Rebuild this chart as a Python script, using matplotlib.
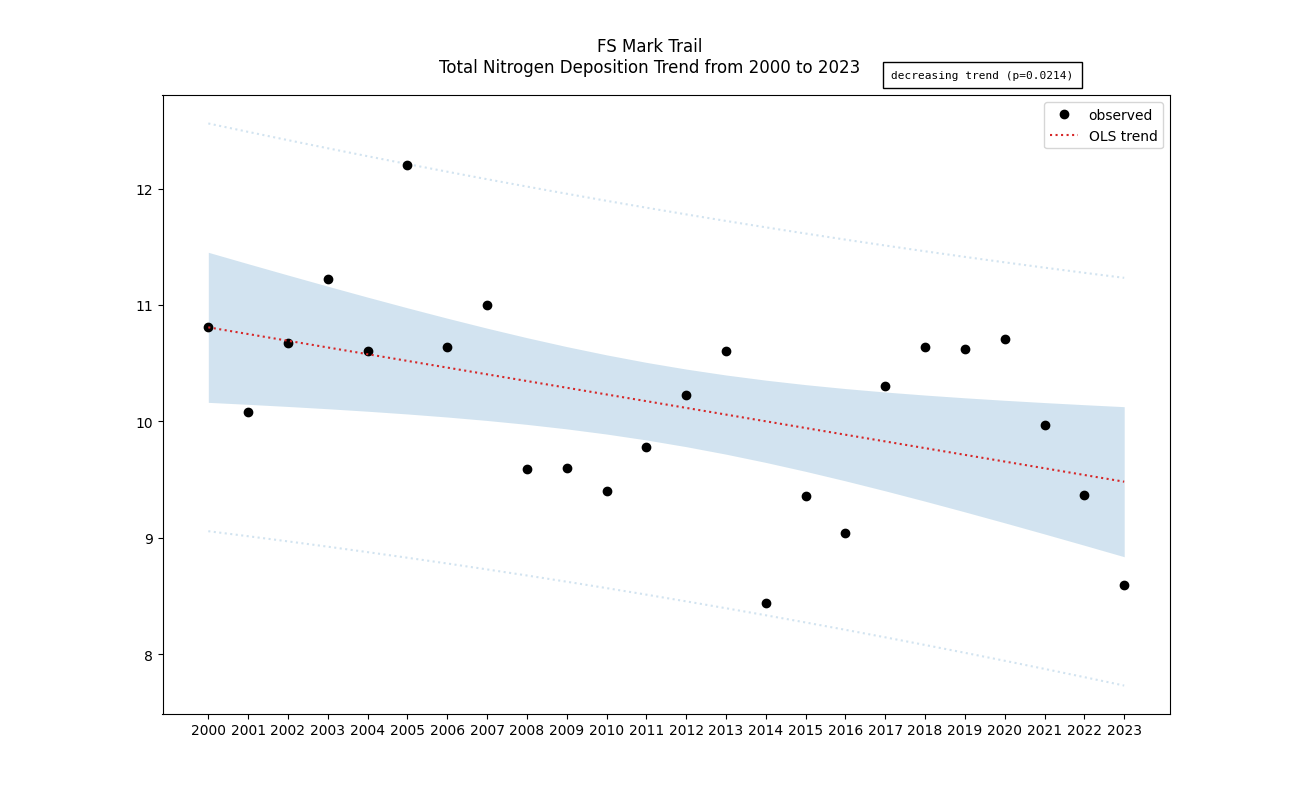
import numpy as np
import matplotlib
matplotlib.use("Agg")
import matplotlib.pyplot as plt

years = list(range(2000, 2024))
values = [10.81, 10.08, 10.67, 11.22, 10.60, 12.20, 10.64, 11.00, 9.59, 9.60,
          9.40, 9.78, 10.23, 10.60, 8.44, 9.36, 9.04, 10.30, 10.64, 10.62,
          10.71, 9.97, 9.37, 8.59]
site = "FS Mark Trail"
trend_label = "decreasing trend (p=0.0214)"
T_CRIT = 2.0739  # t(0.975, df=22)

x = np.array(years, dtype=float)
y = np.array(values)
n = len(x)
slope, intercept = np.polyfit(x, y, 1)
fit = intercept + slope * x
resid = y - fit
s = np.sqrt(np.sum(resid**2) / (n - 2))
xm = x.mean()
sxx = np.sum((x - xm)**2)
se_mean = s * np.sqrt(1.0 / n + (x - xm)**2 / sxx)
se_pred = s * np.sqrt(1 + 1.0 / n + (x - xm)**2 / sxx)

fig, ax = plt.subplots(figsize=(13, 8.03), dpi=100)
ax.fill_between(x, fit - T_CRIT * se_mean, fit + T_CRIT * se_mean, alpha=0.2, color='C0', linewidth=0)
ax.plot(x, fit - T_CRIT * se_pred, ':', color='C0', alpha=0.2)
ax.plot(x, fit + T_CRIT * se_pred, ':', color='C0', alpha=0.2)
ax.plot(x, y, 'o', color='black', label='observed')
ax.plot(x, fit, ':', color='tab:red', label='OLS trend')
ax.set_xticks(years)
ax.set_xticklabels([str(v) for v in years])
fig.text(0.5, 1 - 57.5 / 803, site + "\nTotal Nitrogen Deposition Trend from 2000 to 2023",
         ha='center', va='center', fontsize=12, multialignment='center')
ax.text(0.814, 1.0335, trend_label, transform=ax.transAxes, ha='center', va='center',
        family='monospace', fontsize=8,
        bbox=dict(facecolor='white', edgecolor='black', boxstyle='square,pad=0.72'))
ax.legend(loc='upper right')
fig.savefig("out.png", dpi=100)
